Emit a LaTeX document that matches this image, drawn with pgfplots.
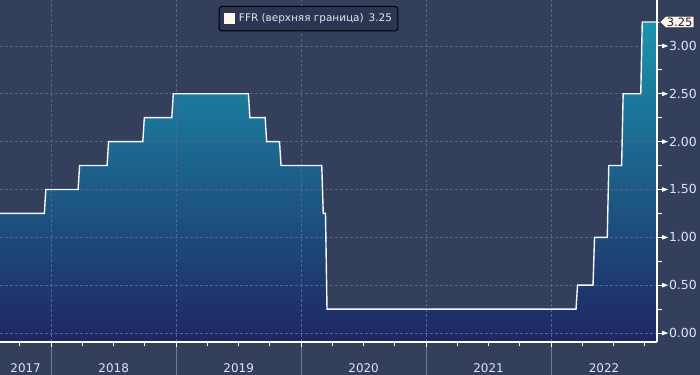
\documentclass[border=0pt]{standalone}
\usepackage{fontspec}
\setmainfont{DejaVu Sans}
\usepackage{pgfplots}
\usepackage{pgfplotstable}
\pgfplotsset{compat=1.18}
\usetikzlibrary{shapes.symbols}
\definecolor{bg}{RGB}{52,63,92}
\definecolor{gridc}{RGB}{80,100,140}
\definecolor{filltop}{RGB}{26,148,174}
\definecolor{fillbot}{RGB}{31,38,98}
\definecolor{linec}{RGB}{246,246,246}
\definecolor{sepc}{RGB}{112,124,148}
\definecolor{textc}{RGB}{224,230,242}
\definecolor{legbg}{RGB}{44,54,82}
\definecolor{cream}{RGB}{255,245,238}
\definecolor{navytext}{RGB}{26,32,64}

\pgfplotstableread{
x y
2017.590 1.25
2017.945 1.25
2017.957 1.50
2018.215 1.50
2018.227 1.75
2018.447 1.75
2018.459 2.00
2018.733 2.00
2018.745 2.25
2018.965 2.25
2018.977 2.50
2019.578 2.50
2019.590 2.25
2019.712 2.25
2019.724 2.00
2019.827 2.00
2019.839 1.75
2020.165 1.75
2020.177 1.25
2020.195 1.25
2020.207 0.25
2022.200 0.25
2022.212 0.50
2022.336 0.50
2022.348 1.00
2022.450 1.00
2022.462 1.75
2022.565 1.75
2022.577 2.50
2022.718 2.50
2022.730 3.25
2022.848 3.25
}\ffr

\newcommand{\tri}{\tikz[baseline=-4.5bp]{\fill[white] (0,-2.3bp) -- (0,2.3bp) -- (6bp,0) -- cycle;}}

\pgfplotsset{mainframe/.style={
  at={(0,0)}, anchor=south west,
  scale only axis, width=657bp, height=342bp,
  xmin=2017.59, xmax=2022.848, ymin=-0.094, ymax=3.48}}

\begin{document}
\begin{tikzpicture}
\useasboundingbox (0,-33bp) rectangle (700bp,342bp);
\fill[bg] (0,-33bp) rectangle (700bp,342bp);

% bottom strip with year separators and labels
\begin{axis}[
  at={(0,-33bp)}, anchor=south west,
  scale only axis, width=657bp, height=33bp,
  xmin=2017.59, xmax=2022.848, ymin=0, ymax=1,
  axis line style={draw=none},
  ytick=\empty,
  xtick={2018,2019,2020,2021,2022}, xticklabels={},
  xmajorgrids, major grid style={draw=sepc, line width=1bp, solid},
  major tick length=0pt, tick style={draw=none},
  extra x ticks={2017.795,2018.5,2019.5,2020.5,2021.5,2022.424},
  extra x tick labels={2017,2018,2019,2020,2021,2022},
  extra x tick style={grid=none, xticklabel style={anchor=base, yshift=3bp}},
  xticklabel style={text=textc, font=\fontsize{12}{14}\selectfont},
]
\end{axis}

% fill, grid, ticks, axis lines
\begin{axis}[
  mainframe,
  axis x line*=bottom, axis y line*=right,
  axis line style={draw=white, line width=1.3bp},
  axis on top,
  xtick={2018,2019,2020,2021,2022}, xticklabels={},
  minor xtick={2017.75,2018.25,2018.5,2018.75,2019.25,2019.5,2019.75,2020.25,2020.5,2020.75,2021.25,2021.5,2021.75,2022.25,2022.5,2022.75},
  ytick={0,0.5,1,1.5,2,2.5,3},
  minor ytick={0.25,0.75,1.25,1.75,2.25,2.75,3.25},
  grid=major,
  major grid style={draw=gridc, line width=0.8bp, dash pattern=on 2.5bp off 2.5bp},
  tick align=outside,
  major tick length=5bp, minor tick length=4.5bp,
  tick style={draw=white, line width=1bp},
  /pgf/number format/assume math mode=true,
  yticklabel={\tri\hspace{0.8bp}\pgfmathprintnumber[fixed,fixed zerofill,precision=2]{\tick}},
  yticklabel style={anchor=west, inner sep=0pt, text=textc, font=\fontsize{12.5}{14}\selectfont},
]
\addplot[draw=none, top color=filltop, bottom color=fillbot]
  table {\ffr} -- (axis cs:2022.848,-0.094) -- (axis cs:2017.59,-0.094) -- cycle;
\end{axis}

% step line, legend and value flag on top of the grid
\begin{axis}[
  mainframe,
  hide axis,
  clip mode=individual,
  legend style={at={(0.4696,0.9825)}, anchor=north, draw=black, line width=1bp,
    rounded corners=3bp, fill=legbg, text=textc,
    font=\fontsize{10.5}{12}\selectfont, inner xsep=4.5bp, inner ysep=6bp,
    nodes={inner sep=1.5bp}},
  legend cell align=left,
]
\addplot[draw=linec, line width=1.4bp,
  legend image code/.code={\fill[cream, sharp corners] (0bp,-5bp) rectangle (10bp,5bp); \path (12.5bp,0);}]
  table {\ffr};
\addlegendentry{FFR (верхняя граница)\hspace{5bp}3.25}
\node[signal, signal to=west, fill=cream, draw=black!85, line width=0.8bp,
  text=navytext, font=\fontsize{11.5}{13}\selectfont, inner sep=1.5bp,
  anchor=west, xshift=2bp] at (axis cs:2022.848,3.25) {3.25};
\end{axis}
\end{tikzpicture}
\end{document}
